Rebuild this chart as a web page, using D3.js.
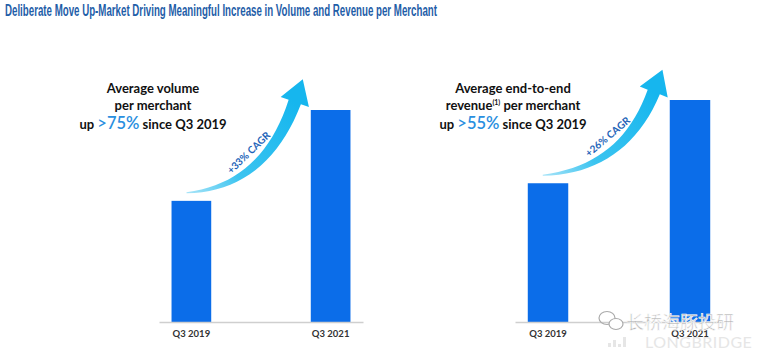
<!DOCTYPE html>
<html>
<head>
<meta charset="utf-8">
<script src="https://cdn.jsdelivr.net/npm/d3@7/dist/d3.min.js"></script>
<style>
  body{margin:0;background:#fff;}
  svg{display:block;}
</style>
</head>
<body>
<div id="chart"></div>
<script>
// values indexed to Q3 2019 = 100
const periods = ["Q3 2019", "Q3 2021"]
const volumeIdx = [100, 175]
const revenueIdx = [100, 160]
const cagrLabels = ["+33% CAGR", "+26% CAGR"]
const headlineVolume = ["Average volume", "per merchant"]
const headlineRevenue = ["Average end-to-end", "revenue", " per merchant"]
const upLabels = [">75%", ">55%"]

const W = 760, H = 354
const svg = d3.select("#chart").append("svg").attr("width", W).attr("height", H)

const defs = svg.append("defs")

svg.append("text").attr("x", 5).attr("y", 16)
  .attr("font-family", "'Liberation Sans Narrow', 'Liberation Sans', Arial, sans-serif")
  .attr("font-weight", 700).attr("font-size", 16).attr("fill", "#1f5ea8")
  .attr("textLength", 432).attr("lengthAdjust", "spacingAndGlyphs")
  .text("Deliberate Move Up-Market Driving Meaningful Increase in Volume and Revenue per Merchant")

const panels = [
  {data: volumeIdx, x0: 159, x1: 363, top: 110, cagr: cagrLabels[0], id: "g1"},
  {data: revenueIdx, x0: 515, x1: 723, top: 100, cagr: cagrLabels[1], id: "g2"}
]
const base = 322

panels.forEach(p => {
  const g = svg.append("g")
  const x = d3.scaleBand().domain(periods).range([p.x0, p.x1])
    .paddingInner(0.715).paddingOuter(0.09)
  const y = d3.scaleLinear().domain([0, d3.max(p.data)]).range([base, p.top])

  g.selectAll("rect").data(p.data).enter().append("rect")
    .attr("x", (d, i) => x(periods[i])).attr("width", x.bandwidth())
    .attr("y", d => y(d)).attr("height", d => base - y(d))
    .attr("fill", "#0b6de9")

  const ax = g.append("g").attr("transform", `translate(0,${base})`)
    .call(d3.axisBottom(x).tickSize(0).tickPadding(8))
  ax.select(".domain").attr("stroke", "#cfcfcf").attr("stroke-width", 1.5)
  ax.selectAll("text").attr("font-family", "Lato, sans-serif").attr("font-weight", 700)
    .attr("font-size", 9.5).attr("fill", "#333")

  // curved arrow from first bar to second bar
  const b1x = x(periods[0]), b2x = x(periods[1])
  const P0 = [b1x + 15, y(p.data[0]) - 8]
  const P2 = [b2x - 16, y(p.data[1]) - 8]
  const P1 = [P2[0] - 30, P0[1] - 6]
  const q = (t, k) => (1 - t) * (1 - t) * P0[k] + 2 * (1 - t) * t * P1[k] + t * t * P2[k]
  const dq = (t, k) => 2 * (1 - t) * (P1[k] - P0[k]) + 2 * t * (P2[k] - P1[k])
  const left = [], right = []
  d3.range(0, 1.0001, 0.05).forEach(t => {
    const dx = dq(t, 0), dy = dq(t, 1), len = Math.hypot(dx, dy)
    const nx = -dy / len, ny = dx / len
    const w = 0.5 + 6 * Math.pow(t, 0.8)
    left.push([q(t, 0) + nx * w, q(t, 1) + ny * w])
    right.push([q(t, 0) - nx * w, q(t, 1) - ny * w])
  })
  const tx = dq(1, 0), ty = dq(1, 1), tl = Math.hypot(tx, ty)
  const ux = tx / tl, uy = ty / tl, nx = -uy, ny = ux
  const tip = [P2[0] + ux * 24, P2[1] + uy * 24]
  const head = [
    [P2[0] + nx * 15, P2[1] + ny * 15], tip, [P2[0] - nx * 15, P2[1] - ny * 15]
  ]
  const pts = left.concat([head[0], head[1], head[2]]).concat(right.reverse())
  const grad = defs.append("linearGradient").attr("id", p.id)
    .attr("gradientUnits", "userSpaceOnUse")
    .attr("x1", P0[0]).attr("y1", P0[1]).attr("x2", P2[0]).attr("y2", P2[1])
  grad.append("stop").attr("offset", 0).attr("stop-color", "#a8e4f8")
  grad.append("stop").attr("offset", 0.35).attr("stop-color", "#3cc4f0")
  grad.append("stop").attr("offset", 1).attr("stop-color", "#16b6ee")
  g.append("path").attr("d", d3.line()(pts) + "Z").attr("fill", `url(#${p.id})`)

  // CAGR label along arrow, on its upper-left side
  const tm = 0.55
  const mx = q(tm, 0), my = q(tm, 1)
  const ang = Math.atan2(dq(tm, 1), dq(tm, 0)) * 180 / Math.PI
  const dxm = dq(tm, 0), dym = dq(tm, 1), lm = Math.hypot(dxm, dym)
  const ox = mx + (dym / lm) * 10, oy = my - (dxm / lm) * 10
  g.append("text").attr("transform", `translate(${ox},${oy}) rotate(${ang})`)
    .attr("text-anchor", "middle").attr("font-family", "Lato, sans-serif")
    .attr("font-weight", 700).attr("font-size", 10).attr("fill", "#1d63b8")
    .text(p.cagr)
})

// headline annotations
const hFont = "Lato, sans-serif"
function headline(cx, lines, up) {
  const t = svg.append("g").attr("font-family", hFont).attr("font-weight", 700)
    .attr("font-size", 13).attr("fill", "#111").attr("text-anchor", "middle")
  lines.forEach((l, i) => {
    const el = t.append("text").attr("x", cx).attr("y", 93 + i * 17)
    l.forEach(s => {
      const sp = el.append("tspan").text(s.t)
      if (s.sup) sp.attr("font-size", 7).attr("dy", -5)
      if (s.after) sp.attr("dy", 5)
    })
  })
  const el = t.append("text").attr("x", cx).attr("y", 129)
  el.append("tspan").text("up ")
  el.append("tspan").attr("fill", "#2a8fe0").attr("font-size", 16.5).attr("font-weight", 600).text(up)
  el.append("tspan").text(" since Q3 2019")
}
headline(153, [[{t: headlineVolume[0]}], [{t: headlineVolume[1]}]], upLabels[0])
headline(513, [[{t: headlineRevenue[0]}],
  [{t: headlineRevenue[1]}, {t: "(1)", sup: true}, {t: headlineRevenue[2], after: true}]], upLabels[1])

// watermark
const wm = svg.append("g")
wm.append("text").attr("x", 645).attr("y", 348).attr("font-family", "Lato, sans-serif")
  .attr("font-size", 16).attr("fill", "#e6e6e6").attr("letter-spacing", 0.5).text("LONGBRIDGE")
wm.selectAll("rect.wb").data([4, 7, 3, 10]).enter().append("rect")
  .attr("x", (d, i) => 608 + i * 5).attr("y", d => 347 - d).attr("width", 3).attr("height", d => d)
  .attr("fill", "#e6e6e6")
wm.append("ellipse").attr("cx", 607).attr("cy", 318).attr("rx", 8).attr("ry", 6.5)
  .attr("fill", "none").attr("stroke", "#aaa").attr("stroke-width", 1.2)
wm.append("ellipse").attr("cx", 616).attr("cy", 324).attr("rx", 7).attr("ry", 5.5)
  .attr("fill", "#fff").attr("stroke", "#aaa").attr("stroke-width", 1.2)
wm.append("text").attr("x", 626).attr("y", 329).attr("font-family", "'Noto Sans CJK SC', sans-serif")
  .attr("font-size", 18).attr("fill", "#b5b5b5").attr("stroke", "#fff").attr("stroke-width", 0.6)
  .text("长桥海豚投研")
</script>
</body>
</html>
